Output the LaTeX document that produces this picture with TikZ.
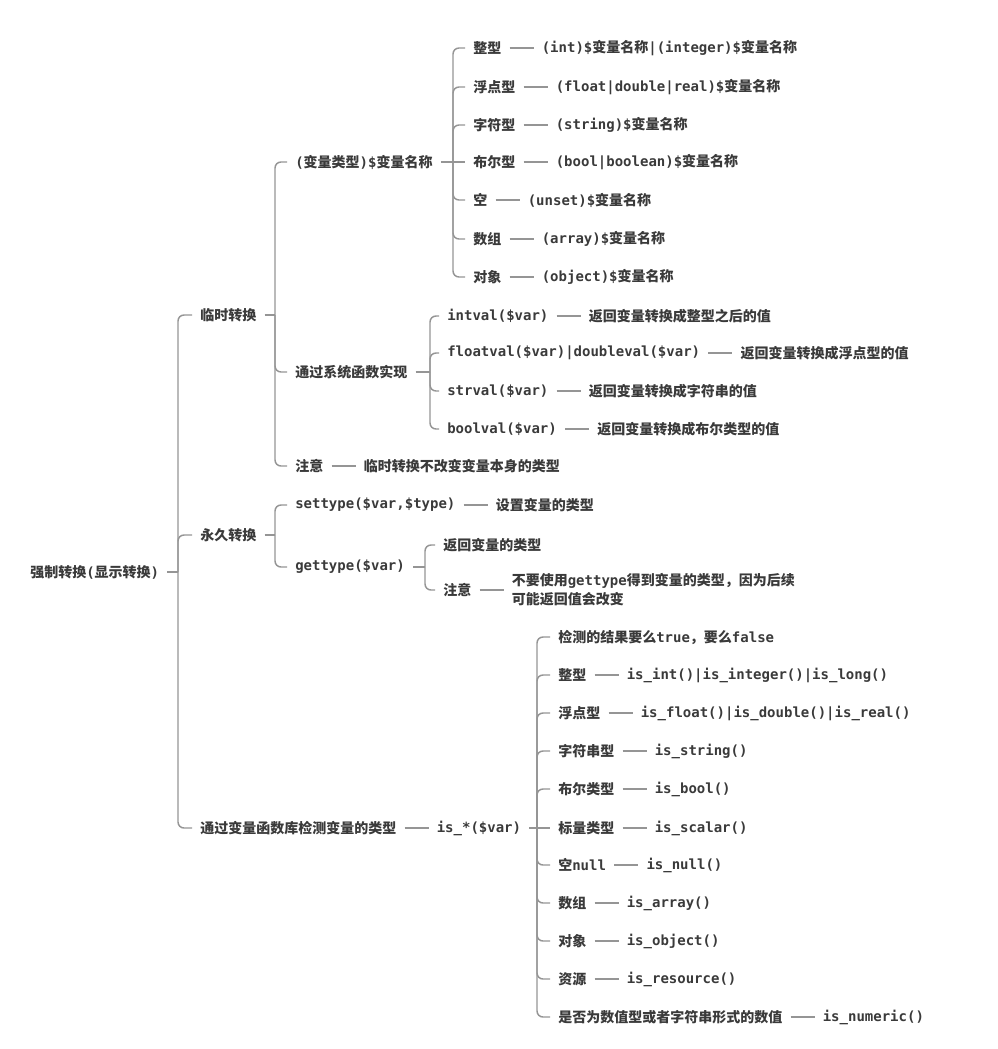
\documentclass[tikz,border=0pt]{standalone}
\usepackage{fontspec}
\setmainfont{DejaVu Sans Mono}
\newfontfamily\cjkfont{Noto Sans CJK SC}
\usetikzlibrary{positioning}
\XeTeXinterchartokenstate=1
\newXeTeXintercharclass\CJKclass
\newcount\cjkc
\cjkc="3000
\loop \XeTeXcharclass\cjkc=\CJKclass \advance\cjkc by 1 \ifnum\cjkc<"3040 \repeat
\cjkc="4E00
\loop \XeTeXcharclass\cjkc=\CJKclass \advance\cjkc by 1 \ifnum\cjkc<"A000 \repeat
\cjkc="FF00
\loop \XeTeXcharclass\cjkc=\CJKclass \advance\cjkc by 1 \ifnum\cjkc<"FFF0 \repeat
\XeTeXinterchartoks 0 \CJKclass = {\cjkfont}
\XeTeXinterchartoks 4095 \CJKclass = {\cjkfont}
\XeTeXinterchartoks \CJKclass 0 = {\rmfamily}
\XeTeXinterchartoks \CJKclass 4095 = {\rmfamily}
\definecolor{txt}{HTML}{3A3A3A}
\definecolor{lc}{HTML}{959595}
\tikzset{
  lbl/.style={anchor=west, inner xsep=6pt, inner ysep=1pt, text=txt,
    font=\fontsize{10.5}{14.25}\selectfont\bfseries},
  ln/.style={draw=lc, line width=1.1pt},
  br/.style={ln, rounded corners=4.5pt},
  val/.style={lbl, right=18pt of #1},
}
\begin{document}
\begin{tikzpicture}[x=0.75pt, y=-0.75pt]
\useasboundingbox (0,0) rectangle (997,1049);
% root
\node[lbl] (root) at (22,572) {强制转换(显示转换)};
\coordinate (jroot) at (178,572);
\draw[ln] (root.east) -- (jroot);
% level 1
\node[lbl] (a1) at (192,315) {临时转换};
\node[lbl] (a2) at (192,535) {永久转换};
\node[lbl] (a3) at (192,828) {通过变量函数库检测变量的类型};
\foreach \n in {a1,a2,a3} \draw[br] (jroot) |- (\n.west);
% 临时转换
\coordinate (ja1) at (275,315);
\draw[ln] (a1.east) -- (ja1);
\node[lbl] (b1) at (287,162) {(变量类型)\$变量名称};
\node[lbl] (b2) at (287,372) {通过系统函数实现};
\node[lbl] (b3) at (287,466) {注意};
\node[val=b3] (b3v) {临时转换不改变变量本身的类型};
\draw[ln] (b3.east) -- (b3v.west);
\foreach \n in {b1,b2,b3} \draw[br] (ja1) |- (\n.west);
% (变量类型)$变量名称
\coordinate (jb1) at (453,162);
\draw[ln] (b1.east) -- (jb1);
\node[lbl] (c1) at (465,48) {整型};
\node[lbl] (c2) at (465,87) {浮点型};
\node[lbl] (c3) at (465,125) {字符型};
\node[lbl] (c4) at (465,162) {布尔型};
\node[lbl] (c5) at (465,200) {空};
\node[lbl] (c6) at (465,239) {数组};
\node[lbl] (c7) at (465,277) {对象};
\node[val=c1] (c1v) {(int)\$变量名称|(integer)\$变量名称};
\node[val=c2] (c2v) {(float|double|real)\$变量名称};
\node[val=c3] (c3v) {(string)\$变量名称};
\node[val=c4] (c4v) {(bool|boolean)\$变量名称};
\node[val=c5] (c5v) {(unset)\$变量名称};
\node[val=c6] (c6v) {(array)\$变量名称};
\node[val=c7] (c7v) {(object)\$变量名称};
\foreach \n in {c1,c2,c3,c5,c6,c7} \draw[br] (jb1) |- (\n.west);
\draw[ln] (jb1) -- (c4.west);
\foreach \n in {c1,c2,c3,c4,c5,c6,c7} \draw[ln] (\n.east) -- (\n v.west);
% 通过系统函数实现
\coordinate (jb2) at (430,372);
\draw[ln] (b2.east) -- (jb2);
\node[lbl] (d1) at (439,316) {intval(\$var)};
\node[lbl] (d2) at (439,353) {floatval(\$var)|doubleval(\$var)};
\node[lbl] (d3) at (439,391) {strval(\$var)};
\node[lbl] (d4) at (439,429) {boolval(\$var)};
\node[val=d1] (d1v) {返回变量转换成整型之后的值};
\node[val=d2] (d2v) {返回变量转换成浮点型的值};
\node[val=d3] (d3v) {返回变量转换成字符串的值};
\node[val=d4] (d4v) {返回变量转换成布尔类型的值};
\foreach \n in {d1,d2,d3,d4} {
  \draw[br] (jb2) |- (\n.west);
  \draw[ln] (\n.east) -- (\n v.west);
}
% 永久转换
\coordinate (ja2) at (275,535);
\draw[ln] (a2.east) -- (ja2);
\node[lbl] (e1) at (287,505) {settype(\$var,\$type)};
\node[lbl] (e2) at (287,567) {gettype(\$var)};
\node[val=e1] (e1v) {设置变量的类型};
\draw[ln] (e1.east) -- (e1v.west);
\foreach \n in {e1,e2} \draw[br] (ja2) |- (\n.west);
\coordinate (je2) at (425,567);
\draw[ln] (e2.east) -- (je2);
\node[lbl] (f1) at (435,545) {返回变量的类型};
\node[lbl] (f2) at (435,590) {注意};
\node[val=f2, align=left] (f2v) {不要使用gettype得到变量的类型，因为后续\\可能返回值会改变};
\draw[ln] (f2.east) -- (f2v.west);
\foreach \n in {f1,f2} \draw[br] (je2) |- (\n.west);
% 检测
\node[val=a3] (g0) {is\_*(\$var)};
\draw[ln] (a3.east) -- (g0.west);
\coordinate (jg) at (537,828);
\draw[ln] (g0.east) -- (jg);
\node[lbl] (h1) at (550,637) {检测的结果要么true，要么false};
\node[lbl] (h2) at (550,675) {整型};
\node[lbl] (h3) at (550,713) {浮点型};
\node[lbl] (h4) at (550,751) {字符串型};
\node[lbl] (h5) at (550,789) {布尔类型};
\node[lbl] (h6) at (550,828) {标量类型};
\node[lbl] (h7) at (550,865) {空null};
\node[lbl] (h8) at (550,903) {数组};
\node[lbl] (h9) at (550,941) {对象};
\node[lbl] (h10) at (550,979) {资源};
\node[lbl] (h11) at (550,1017) {是否为数值型或者字符串形式的数值};
\node[val=h2] (h2v) {is\_int()|is\_integer()|is\_long()};
\node[val=h3] (h3v) {is\_float()|is\_double()|is\_real()};
\node[val=h4] (h4v) {is\_string()};
\node[val=h5] (h5v) {is\_bool()};
\node[val=h6] (h6v) {is\_scalar()};
\node[val=h7] (h7v) {is\_null()};
\node[val=h8] (h8v) {is\_array()};
\node[val=h9] (h9v) {is\_object()};
\node[val=h10] (h10v) {is\_resource()};
\node[val=h11] (h11v) {is\_numeric()};
\foreach \n in {h1,h2,h3,h4,h5,h7,h8,h9,h10,h11} \draw[br] (jg) |- (\n.west);
\draw[ln] (jg) -- (h6.west);
\foreach \n in {h2,h3,h4,h5,h6,h7,h8,h9,h10,h11} \draw[ln] (\n.east) -- (\n v.west);
\end{tikzpicture}
\end{document}
